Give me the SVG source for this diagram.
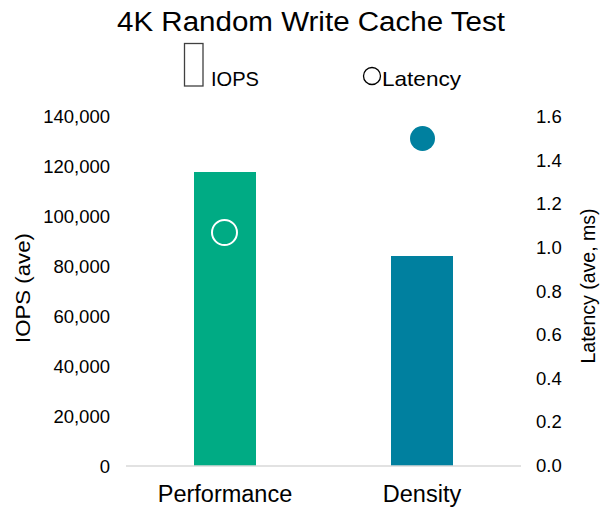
<svg xmlns="http://www.w3.org/2000/svg" width="608" height="508" viewBox="0 0 608 508">
  <style>
    text { font-family: "Liberation Sans", Arial, sans-serif; fill: #000; }
    .title { font-size: 27px; }
    .tick { font-size: 18.5px; }
    .tick-l { text-anchor: end; }
    .tick-r { text-anchor: start; }
    .axis-title { font-size: 21px; text-anchor: middle; }
    .cat { font-size: 23.5px; text-anchor: middle; }
    .legend { font-size: 21px; }
    .axis { stroke: #D9D9D9; stroke-width: 1.5; fill: none; }
    .bar-perf { fill: #00AB84; }
    .bar-dens { fill: #00809F; }
  </style>

  <!-- chart title -->
  <text class="title" x="117" y="31" textLength="388" lengthAdjust="spacingAndGlyphs">4K Random Write Cache Test</text>

  <!-- legend -->
  <g id="legend">
    <rect x="184.5" y="43.5" width="18.5" height="42.5" fill="#fff" stroke="#404040" stroke-width="1.3"/>
    <text class="legend" x="211" y="86" textLength="48" lengthAdjust="spacingAndGlyphs">IOPS</text>
    <circle cx="372" cy="76" r="8.5" fill="#fff" stroke="#000" stroke-width="1.3"/>
    <text class="legend" x="382" y="86" textLength="79" lengthAdjust="spacingAndGlyphs">Latency</text>
  </g>

  <!-- left axis: IOPS, 50 px per 20,000 -->
  <g id="axis-left">
    <text class="tick tick-l" x="110" y="122.5">140,000</text>
    <text class="tick tick-l" x="110" y="172.5">120,000</text>
    <text class="tick tick-l" x="110" y="222.5">100,000</text>
    <text class="tick tick-l" x="110" y="272.5">80,000</text>
    <text class="tick tick-l" x="110" y="322.5">60,000</text>
    <text class="tick tick-l" x="110" y="372.5">40,000</text>
    <text class="tick tick-l" x="110" y="422.5">20,000</text>
    <text class="tick tick-l" x="110" y="472.5">0</text>
    <text class="axis-title" transform="translate(30,288) rotate(-90)" textLength="110" lengthAdjust="spacingAndGlyphs">IOPS (ave)</text>
  </g>

  <!-- right axis: latency, 0.0 at y=466, 1.6 at y=117 -->
  <g id="axis-right">
    <text class="tick tick-r" x="536" y="123">1.6</text>
    <text class="tick tick-r" x="536" y="166.6">1.4</text>
    <text class="tick tick-r" x="536" y="210.3">1.2</text>
    <text class="tick tick-r" x="536" y="253.9">1.0</text>
    <text class="tick tick-r" x="536" y="297.5">0.8</text>
    <text class="tick tick-r" x="536" y="341.1">0.6</text>
    <text class="tick tick-r" x="536" y="384.8">0.4</text>
    <text class="tick tick-r" x="536" y="428.4">0.2</text>
    <text class="tick tick-r" x="536" y="472">0.0</text>
    <text class="axis-title" transform="translate(595,286) rotate(-90)" textLength="155" lengthAdjust="spacingAndGlyphs">Latency (ave, ms)</text>
  </g>

  <!-- bars -->
  <g id="bar-performance">
    <rect class="bar-perf" x="194" y="172" width="62" height="294"/>
  </g>
  <g id="bar-density">
    <rect class="bar-dens" x="391" y="256" width="62" height="210"/>
  </g>

  <!-- category baseline -->
  <g id="connectors">
    <line class="axis" x1="126" y1="466" x2="521" y2="466"/>
  </g>

  <!-- latency markers -->
  <g id="latency-performance">
    <circle cx="224.5" cy="232.5" r="12.5" fill="none" stroke="#fff" stroke-width="2"/>
  </g>
  <g id="latency-density">
    <circle cx="422.5" cy="138.5" r="12.5" fill="#00809F"/>
  </g>

  <!-- category labels -->
  <text class="cat" x="225" y="502">Performance</text>
  <text class="cat" x="422" y="502">Density</text>
</svg>
